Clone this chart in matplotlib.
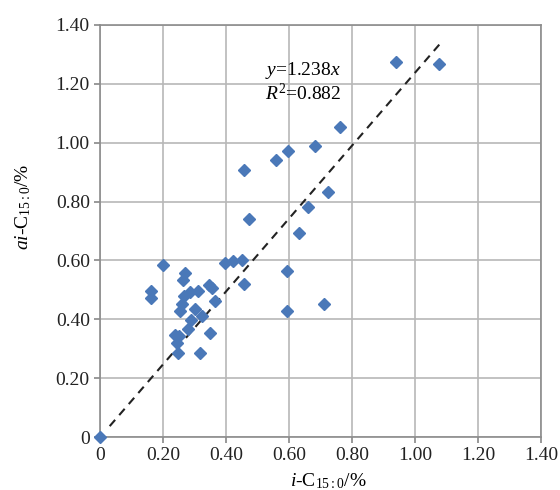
import numpy as np
import matplotlib
matplotlib.use('Agg')
import matplotlib.pyplot as plt

plt.rcParams['font.family'] = ['Liberation Serif', 'DejaVu Serif']
plt.rcParams['mathtext.fontset'] = 'custom'
plt.rcParams['mathtext.rm'] = 'Liberation Serif'
plt.rcParams['mathtext.it'] = 'Liberation Serif:italic'

# i-C15:0 and ai-C15:0 contents (%)
i_c150 = [0.0, 0.94, 1.075, 0.762, 0.683, 0.595, 0.559, 0.458, 0.722, 0.659,
          0.473, 0.63, 0.593, 0.593, 0.711, 0.198, 0.27, 0.262, 0.161, 0.161,
          0.397, 0.423, 0.45, 0.457, 0.345, 0.355, 0.286, 0.312, 0.265, 0.365,
          0.259, 0.254, 0.302, 0.323, 0.287, 0.28, 0.349, 0.238, 0.25, 0.245,
          0.247, 0.317]
ai_c150 = [0.0, 1.275, 1.268, 1.053, 0.988, 0.971, 0.942, 0.908, 0.834, 0.782,
           0.741, 0.694, 0.564, 0.428, 0.453, 0.584, 0.558, 0.532, 0.496, 0.473,
           0.592, 0.598, 0.603, 0.519, 0.515, 0.508, 0.494, 0.496, 0.479, 0.462,
           0.451, 0.428, 0.434, 0.412, 0.398, 0.366, 0.355, 0.347, 0.345, 0.318,
           0.287, 0.285]

slope = 1.238
r2 = 0.882
ticks = [0, 0.2, 0.4, 0.6, 0.8, 1.0, 1.2, 1.4]
tick_labels = ['0', '0.20', '0.40', '0.60', '0.80', '1.00', '1.20', '1.40']

fig = plt.figure(figsize=(5.6, 4.9), dpi=100)
ax = fig.add_axes([0.179, 0.108, 0.787, 0.841])

# trend line through origin
xl = np.array([0.03, 1.085])
ax.plot(xl, slope * xl, color='#222222', lw=1.5, ls=(0, (4, 3)), zorder=3)

ax.plot(i_c150, ai_c150, ls='none', marker='D', ms=6.3,
        color='#4a78b8', mec='#4a78b8', clip_on=False, zorder=4)

ax.text(0.645, 1.246, r'$y$=%.3f$x$' % slope, fontsize=14, ha='center', va='center')
ax.text(0.645, 1.167, r'$R^2$=%.3f' % r2, fontsize=14, ha='center', va='center')

ax.set_xlim(0, 1.4)
ax.set_ylim(0, 1.4)
ax.set_xticks(ticks)
ax.set_xticklabels(tick_labels)
ax.set_yticks(ticks)
ax.set_yticklabels(tick_labels)
ax.tick_params(labelsize=14, colors='#888888', labelcolor='#222222', length=4,
               width=1.2, direction='out')
ax.grid(True, color='#b8b8b8', lw=1.2)
ax.set_axisbelow(True)
for s in ax.spines.values():
    s.set_color('#8c8c8c')
    s.set_linewidth(1.2)

ax.set_xlabel(r'$i$-C$_{15{:}0}$/%', fontsize=14)
ax.set_ylabel(r'$ai$-C$_{15{:}0}$/%', fontsize=14)
ax.xaxis.set_label_coords(0.517, -0.083)
ax.yaxis.set_label_coords(-0.152, 0.56)

fig.savefig('out.png', dpi=100)
